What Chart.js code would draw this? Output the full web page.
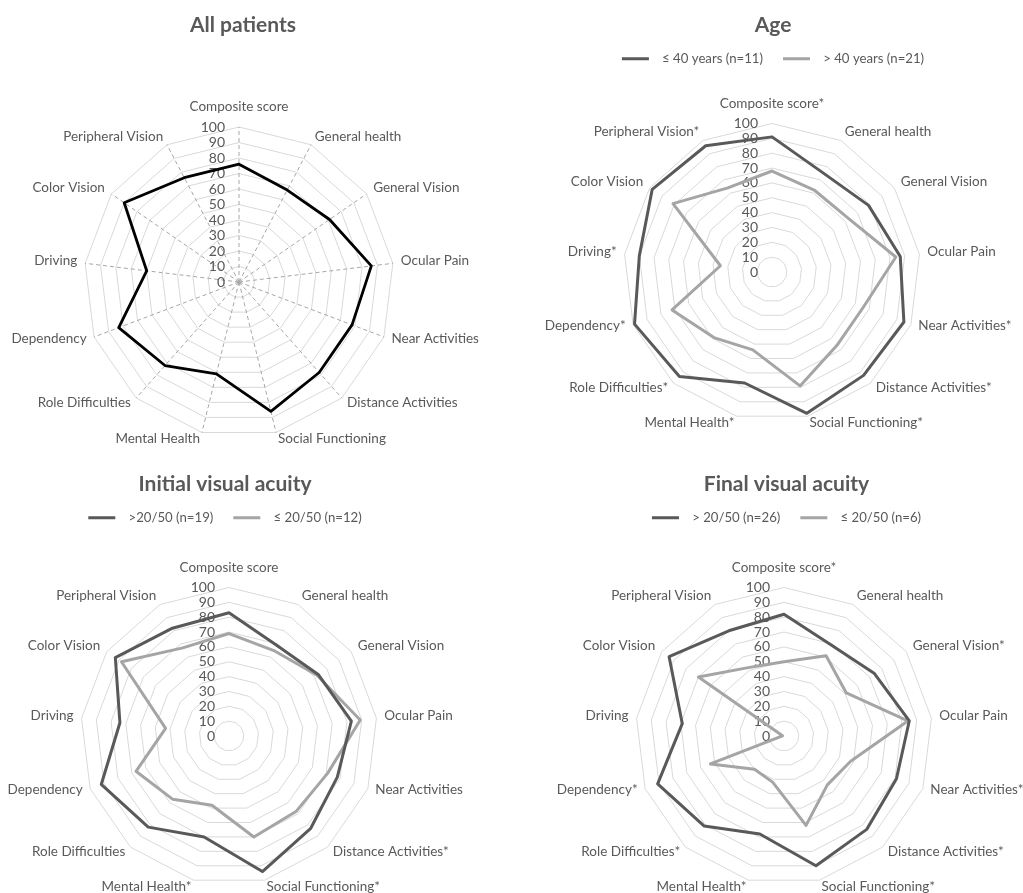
<!DOCTYPE html>
<html>
<head>
<meta charset="utf-8">
<script src="https://cdn.jsdelivr.net/npm/chart.js@4.4.1/dist/chart.umd.min.js"></script>
<style>
  html, body { margin: 0; padding: 0; background: #ffffff; width: 1023px; height: 893px; overflow: hidden; }
  .panel { position: absolute; }
  .panel canvas { display: block; }
</style>
</head>
<body>
<div class="panel" style="left:0px;top:0px;"><canvas id="cAll" width="486" height="450"></canvas></div>
<div class="panel" style="left:530px;top:0px;"><canvas id="cAge" width="486" height="450"></canvas></div>
<div class="panel" style="left:0px;top:450px;"><canvas id="cInitial" width="480" height="443"></canvas></div>
<div class="panel" style="left:550px;top:450px;"><canvas id="cFinal" width="473" height="443"></canvas></div>

<script>
// NEI VFQ-25 subscales (axis order, clockwise from the top)
const categoriesAll = ['Composite score', 'General health', 'General Vision', 'Ocular Pain', 'Near Activities',
  'Distance Activities', 'Social Functioning', 'Mental Health', 'Role Difficulties', 'Dependency',
  'Driving', 'Color Vision', 'Peripheral Vision'];
const categoriesAge = ['Composite score*', 'General health', 'General Vision', 'Ocular Pain', 'Near Activities*',
  'Distance Activities*', 'Social Functioning*', 'Mental Health*', 'Role Difficulties*', 'Dependency*',
  'Driving*', 'Color Vision', 'Peripheral Vision*'];
const categoriesInitial = ['Composite score', 'General health', 'General Vision', 'Ocular Pain', 'Near Activities',
  'Distance Activities*', 'Social Functioning*', 'Mental Health*', 'Role Difficulties', 'Dependency',
  'Driving', 'Color Vision', 'Peripheral Vision'];
const categoriesFinal = ['Composite score*', 'General health', 'General Vision*', 'Ocular Pain', 'Near Activities*',
  'Distance Activities*', 'Social Functioning*', 'Mental Health*', 'Role Difficulties*', 'Dependency*',
  'Driving', 'Color Vision', 'Peripheral Vision'];

// Mean subscale scores (0-100)
const allPatients  = [76, 67, 71, 86, 78, 78, 86, 61, 72, 83, 60, 90, 76];
const ageUpTo40    = [91, 75, 79, 87, 95, 93, 98, 77, 94, 99, 90, 98, 96];
const ageOver40    = [68, 62, 63, 84, 66, 66, 79, 54, 59, 72, 35, 81, 64];
const initialAbove = [83, 69, 73, 83, 78, 83, 94, 70, 82, 92, 74, 93, 82];
const initialBelow = [69, 65, 72, 89, 71, 68, 70, 48, 57, 67, 43, 88, 67];
const finalAbove   = [82, 69, 74, 85, 81, 84, 90, 68, 81, 91, 69, 94, 80];
const finalBelow   = [50, 61, 51, 84, 48, 44, 62, 32, 30, 53, 1, 70, 52];

// Radial tick labels
const tickValues = [0, 10, 20, 30, 40, 50, 60, 70, 80, 90, 100];

const FONT = 'Lato';
const TEXT = '#595959';
const DARK = '#595959';
const LIGHT = '#a5a5a5';
const RING = '#d9d9d9';

// Draws the radial value labels (left of the vertical axis) and the category labels
const radarText = {
  id: 'radarText',
  beforeDatasetsDraw(chart, args, opts) {
    const s = chart.scales.r;
    const ctx = chart.ctx;
    ctx.save();
    ctx.fillStyle = TEXT;
    ctx.font = `${opts.tickSize}px ${FONT}`;
    ctx.textAlign = 'right';
    ctx.textBaseline = 'middle';
    tickValues.forEach(v => {
      const d = s.getDistanceFromCenterForValue(v);
      ctx.fillText(String(v), s.xCenter - opts.tickGap, s.yCenter - d);
    });
    ctx.font = `${opts.labelSize}px ${FONT}`;
    chart.data.labels.forEach((lab, i) => {
      const p = s.getPointPosition(i, s.drawingArea + opts.labelGap);
      const a = s.getIndexAngle(i) % (Math.PI * 2);
      let y = p.y - 1.5;
      if (Math.abs(a) < 1e-6) {
        ctx.textAlign = 'center';
        y = p.y - 12;
      } else if (Math.abs(a - Math.PI) < 1e-6) {
        ctx.textAlign = 'center';
      } else if (a < Math.PI) {
        ctx.textAlign = 'left';
      } else {
        ctx.textAlign = 'right';
      }
      ctx.fillText(lab, p.x, y);
    });
    ctx.restore();
  }
};

// Legend entries: a plain line swatch with a little extra room before the text
function legendLabels(chart) {
  return Chart.defaults.plugins.legend.labels.generateLabels(chart)
    .map(l => Object.assign(l, { text: '\u2002' + l.text, lineWidth: 0, strokeStyle: 'rgba(0,0,0,0)' }));
}

function makeRadar(id, cfg) {
  const ctx = document.getElementById(id);
  return new Chart(ctx, {
    type: 'radar',
    data: {
      labels: cfg.labels,
      datasets: cfg.series.map(sr => ({
        label: sr.name,
        data: sr.values,
        borderColor: sr.color,
        backgroundColor: sr.color,
        borderWidth: sr.width,
        fill: false,
        pointRadius: 0,
        pointHoverRadius: 0,
        tension: 0,
        borderJoinStyle: 'round'
      }))
    },
    options: {
      responsive: false,
      devicePixelRatio: 1,
      animation: false,
      events: [],
      layout: { padding: cfg.padding || 0 },
      plugins: {
        title: {
          display: true,
          text: cfg.title,
          color: TEXT,
          font: { family: FONT, size: 21, weight: 'bold' },
          padding: cfg.titlePadding
        },
        legend: {
          display: cfg.series.length > 1,
          position: 'top',
          labels: {
            color: TEXT,
            font: { family: FONT, size: 13.2 },
            boxWidth: 27,
            boxHeight: 3,
            padding: 20,
            generateLabels: legendLabels
          }
        },
        tooltip: { enabled: false },
        radarText: { tickSize: 14, labelSize: 13.5, tickGap: 14, labelGap: 8 }
      },
      scales: {
        r: {
          min: 0,
          max: 100,
          beginAtZero: true,
          ticks: { display: false, stepSize: 10 },
          pointLabels: { display: false },
          grid: { color: RING, lineWidth: 1, circular: false },
          angleLines: cfg.angleLines
            ? { display: true, color: '#a6a6a6', lineWidth: 1, borderDash: [4, 3] }
            : { display: false },
          afterFit(scale) {
            scale.xCenter = cfg.center[0];
            scale.yCenter = cfg.center[1];
            scale.drawingArea = cfg.radius;
          }
        }
      }
    },
    plugins: [radarText]
  });
}

makeRadar('cAll', {
  title: 'All patients',
  titlePadding: { top: 13, bottom: 8 },
  labels: categoriesAll,
  series: [{ name: 'All patients', values: allPatients, color: '#000000', width: 2.8 }],
  angleLines: true,
  center: [239, 282],
  radius: 155
});

makeRadar('cAge', {
  title: 'Age',
  titlePadding: { top: 13, bottom: -6 },
  labels: categoriesAge,
  series: [
    { name: '\u2264 40 years (n=11)', values: ageUpTo40, color: DARK, width: 3 },
    { name: '> 40 years (n=21)', values: ageOver40, color: LIGHT, width: 3 }
  ],
  center: [242, 272],
  radius: 148.5
});

makeRadar('cInitial', {
  title: 'Initial visual acuity',
  titlePadding: { top: 22, bottom: -6 },
  padding: { right: 30 },
  labels: categoriesInitial,
  series: [
    { name: '>20/50 (n=19)', values: initialAbove, color: DARK, width: 3 },
    { name: '\u2264 20/50 (n=12)', values: initialBelow, color: LIGHT, width: 3 }
  ],
  center: [229, 286],
  radius: 148.5
});

makeRadar('cFinal', {
  title: 'Final visual acuity',
  titlePadding: { top: 22, bottom: -6 },
  labels: categoriesFinal,
  series: [
    { name: '> 20/50 (n=26)', values: finalAbove, color: DARK, width: 3 },
    { name: '\u2264 20/50 (n=6)', values: finalBelow, color: LIGHT, width: 3 }
  ],
  center: [234, 286],
  radius: 148.5
});
</script>
</body>
</html>
